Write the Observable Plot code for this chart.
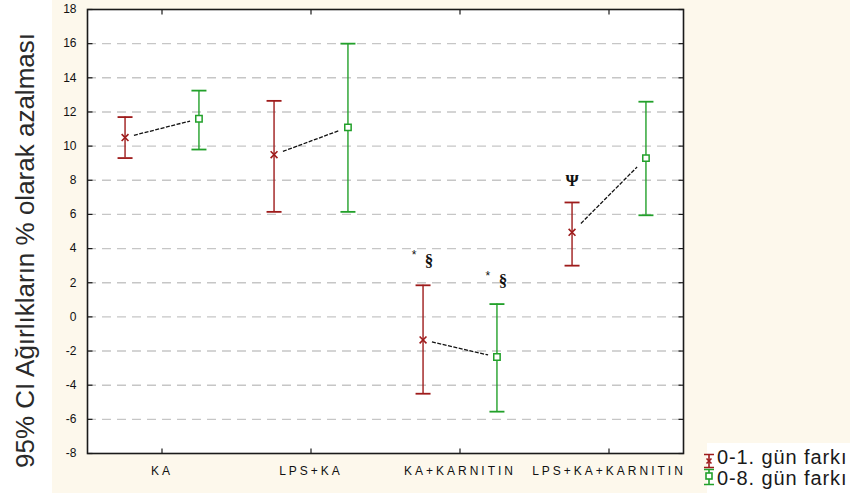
<!DOCTYPE html>
<html>
<head>
<meta charset="utf-8">
<script src="https://cdn.jsdelivr.net/npm/d3@7"></script>
<script src="https://cdn.jsdelivr.net/npm/@observablehq/plot@0.6"></script>
<style>
  html, body { margin: 0; padding: 0; background: #ffffff; }
  #wrap { position: relative; width: 850px; height: 502px; overflow: hidden; font-family: "Liberation Sans", Arial, sans-serif; }
  #cream { position: absolute; left: 52px; top: 0; width: 798px; height: 493px; background: #fdf8ec; }
  #chart { position: absolute; left: 0; top: 0; }
  #legend { position: absolute; left: 707px; top: 443px; width: 143px; height: 59px; background: #ffffff; }
  .lg { position: absolute; left: 10px; font-size: 20px; letter-spacing: 0.9px; color: #1a1a1a; white-space: nowrap; }
  .lgsym { position: absolute; left: -14px; }
  svg [aria-label="x-axis tick label"] text { letter-spacing: 3px; }
</style>
</head>
<body>
<div id="wrap">
  <div id="cream"></div>
  <div id="chart"></div>
  <div id="legend"></div>
</div>
<script>
// ---- data ----
const categories = ["KA", "LPS+KA", "KA+KARNITIN", "LPS+KA+KARNITIN"];
const seriesNames = ["0-1. gün farkı", "0-8. gün farkı"];
const day1Mean = [10.5, 9.5, -1.35, 4.95];
const day1Low  = [9.3, 6.15, -4.5, 3.0];
const day1High = [11.7, 12.65, 1.85, 6.7];
const day8Mean = [11.6, 11.1, -2.35, 9.3];
const day8Low  = [9.8, 6.15, -5.55, 5.95];
const day8High = [13.25, 16.0, 0.75, 12.6];
const yTicks = [-8, -6, -4, -2, 0, 2, 4, 6, 8, 10, 12, 14, 16, 18];
const yLabel = "95% CI Ağırlıkların % olarak azalması";
// annotations: category index, series index (0 = 0-1, 1 = 0-8), y value, text
const annCat = [2, 2, 3];
const annSeries = [0, 1, 0];
const annY = [3.3, 2.1, 8.0];
const annStar = [true, true, false];
const annSym = ["§", "§", "Ψ"];

// ---- build ----
const colors = ["#9e1b1b", "#22a02a"];
const offsets = [-0.248, 0.248];
const means = [day1Mean, day8Mean], lows = [day1Low, day8Low], highs = [day1High, day8High];

const rows = [];
for (let s = 0; s < 2; s++) {
  categories.forEach((c, i) => {
    rows.push({s, i, x: i + offsets[s], mean: means[s][i], lo: lows[s][i], hi: highs[s][i]});
  });
}
const shrink = 0.12;
const links = categories.map((c, i) => {
  const x1 = i + offsets[0], x2 = i + offsets[1];
  const y1 = day1Mean[i], y2 = day8Mean[i];
  return {
    x1: x1 + shrink * (x2 - x1), y1: y1 + shrink * (y2 - y1),
    x2: x2 - shrink * (x2 - x1), y2: y2 - shrink * (y2 - y1)
  };
});
const anns = annCat.map((c, k) => ({x: c + offsets[annSeries[k]], y: annY[k], star: annStar[k], sym: annSym[k], s: annSeries[k]}));

const hline = {draw(ctx, size) { const r = Math.sqrt(size / Math.PI); ctx.moveTo(-r, 0); ctx.lineTo(r, 0); }};
const vline = {draw(ctx, size) { const r = Math.sqrt(size / Math.PI); ctx.moveTo(0, -r); ctx.lineTo(0, r); }};

const xTicks = categories.map((c, i) => i);
const gridVals = yTicks.slice(1, -1);
const tickColor = "#1a1a1a";

const chart = Plot.plot({
  width: 850, height: 502,
  marginLeft: 87, marginRight: 167, marginTop: 9, marginBottom: 49,
  style: {background: "transparent", fontFamily: "'Liberation Sans', Arial, sans-serif", color: "#1a1a1a"},
  x: {domain: [-0.5, 3.5]},
  y: {domain: [-8, 18]},
  marks: [
    Plot.frame({fill: "#ffffff"}),
    Plot.ruleY(gridVals, {stroke: "#c6c6c6", strokeWidth: 1.4, strokeDasharray: "9,6"}),
    Plot.axisY({ticks: yTicks, tickFormat: d => String(d), tickSize: 0, tickPadding: 11, fontSize: 12, label: null, fill: "#111"}),
    Plot.axisX({ticks: xTicks, tickFormat: i => categories[i], tickSize: 0, tickPadding: 13, fontSize: 12, label: null, fill: "#111"}),
    // inward ticks on all four sides
    Plot.dot(yTicks, {x: () => -0.5, y: d => d, symbol: hline, r: 2.5, dx: 2.5, stroke: tickColor, strokeWidth: 1.2}),
    Plot.dot(yTicks, {x: () => 3.5, y: d => d, symbol: hline, r: 2.5, dx: -2.5, stroke: tickColor, strokeWidth: 1.2}),
    Plot.dot(xTicks, {x: d => d, y: () => 18, symbol: vline, r: 2.5, dy: 2.5, stroke: tickColor, strokeWidth: 1.2}),
    Plot.dot(xTicks, {x: d => d, y: () => -8, symbol: vline, r: 2.5, dy: -2.5, stroke: tickColor, strokeWidth: 1.2}),
    // connecting lines
    Plot.link(links, {x1: "x1", y1: "y1", x2: "x2", y2: "y2", stroke: "#111", strokeWidth: 1.3, strokeDasharray: "4,1.5"}),
    // error bars
    Plot.ruleX(rows, {x: "x", y1: "lo", y2: "hi", stroke: d => colors[d.s], strokeWidth: 1.4}),
    Plot.dot(rows, {x: "x", y: "hi", symbol: hline, r: 7.5, stroke: d => colors[d.s], strokeWidth: 1.8}),
    Plot.dot(rows, {x: "x", y: "lo", symbol: hline, r: 7.5, stroke: d => colors[d.s], strokeWidth: 1.8}),
    // means
    Plot.dot(rows.filter(d => d.s === 0), {x: "x", y: "mean", symbol: "times", r: 3.2, stroke: colors[0], strokeWidth: 1.6}),
    Plot.dot(rows.filter(d => d.s === 1), {x: "x", y: "mean", symbol: "square", r: 3.6, fill: "#ffffff", stroke: colors[1], strokeWidth: 1.5}),
    // annotations
    Plot.text(anns.filter(d => d.star), {x: "x", y: "y", text: () => "*", dx: -9, dy: -5, fontSize: 12, fill: "#111"}),
    Plot.text(anns.filter(d => d.star), {x: "x", y: "y", text: "sym", dx: 6, fontSize: 17, fill: "#111",
      fontFamily: "'Liberation Serif', 'DejaVu Serif', serif", fontWeight: "bold"}),
    Plot.text(anns.filter(d => !d.star), {x: "x", y: "y", text: "sym", fontSize: 17, fill: "#111",
      fontFamily: "'Liberation Serif', 'DejaVu Serif', serif", fontWeight: "bold"}),
    // y label
    Plot.text([yLabel], {frameAnchor: "left", text: d => d, textAnchor: "middle", rotate: -90, dx: -62, dy: 19, fontSize: 26, fill: "#2a2a2a"}),
    Plot.frame({stroke: "#1a1a1a", strokeWidth: 1.6})
  ]
});
document.getElementById("chart").appendChild(chart);

// legend
const legend = document.getElementById("legend");
const symRed = `<svg width="12" height="16" viewBox="0 0 12 16"><g stroke="${colors[0]}" stroke-width="1.6" fill="none"><path d="M1,1.5H11M1,14.5H11M6,1.5V14.5"/><path d="M3.5,5.5L8.5,10.5M8.5,5.5L3.5,10.5"/></g></svg>`;
const symGreen = `<svg width="12" height="18" viewBox="0 0 12 18"><g stroke="${colors[1]}" stroke-width="1.6" fill="none"><path d="M1,1.5H11M1,16.5H11M6,1.5V5M6,11V16.5"/><rect x="3" y="5" width="6" height="6" fill="#fff"/></g></svg>`;
legend.innerHTML =
  `<div class="lg" style="top:3px"><span class="lgsym" style="top:5px">${symRed}</span>${seriesNames[0]}</div>` +
  `<div class="lg" style="top:24px"><span class="lgsym" style="top:1px">${symGreen}</span>${seriesNames[1]}</div>`;
</script>
</body>
</html>
